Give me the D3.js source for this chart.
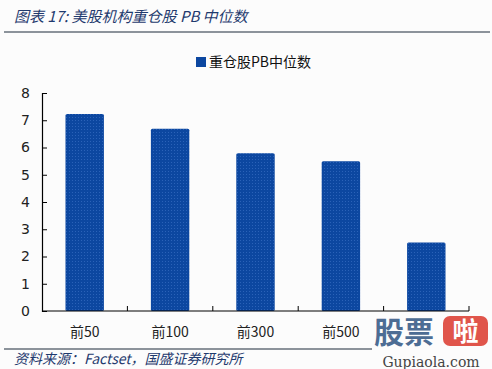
<!DOCTYPE html>
<html>
<head>
<meta charset="utf-8">
<script src="https://cdn.jsdelivr.net/npm/d3@7"></script>
<style>
  body { margin: 0; background: #fcfcfc; }
  svg { display: block; }
</style>
</head>
<body>
<svg id="chart" width="492" height="369"></svg>
<script>
const categories = ["前50", "前100", "前300", "前500", "全部"];
// the last category label is hidden under the watermark in the source picture
const xLabels = ["前50", "前100", "前300", "前500", ""];
const pbMedian = [7.23, 6.69, 5.79, 5.50, 2.51];
const yTicks = [0, 1, 2, 3, 4, 5, 6, 7, 8];
const seriesName = "重仓股PB中位数";
const titleText = "图表 17:  美股机构重仓股 PB 中位数";
const sourceText = "资料来源：Factset，国盛证券研究所";

const svg = d3.select("#chart");
const font = "'Noto Sans CJK SC', 'DejaVu Sans', sans-serif";
const navy = "#1f3a6e";
const barColor = "#0c47a0";

svg.append("rect").attr("width", 492).attr("height", 369).attr("fill", "#fcfcfc");

// dotted bar texture
const defs = svg.append("defs");
const pat = defs.append("pattern")
    .attr("id", "dots")
    .attr("width", 3).attr("height", 3)
    .attr("patternUnits", "userSpaceOnUse");
pat.append("rect").attr("width", 3).attr("height", 3).attr("fill", barColor);
pat.append("rect").attr("width", 1).attr("height", 1).attr("fill", "#2a62b8");

// title + rules
svg.append("text")
    .attr("x", 14).attr("y", 22)
    .attr("font-family", font).attr("font-size", 15).attr("font-style", "italic")
    .attr("fill", navy)
    .text(titleText);
svg.append("line").attr("x1", 4).attr("x2", 490).attr("y1", 32).attr("y2", 32)
    .attr("stroke", "#1d2b3a").attr("stroke-width", 1.2);
svg.append("line").attr("x1", 4).attr("x2", 372).attr("y1", 349).attr("y2", 349)
    .attr("stroke", "#1d2b3a").attr("stroke-width", 1.2);
svg.append("text")
    .attr("x", 14).attr("y", 364)
    .attr("font-family", font).attr("font-size", 14).attr("font-style", "italic")
    .attr("fill", navy)
    .text(sourceText);

// scales
const x = d3.scaleBand().domain(categories).range([42, 469])
    .paddingInner(0.55).paddingOuter(0.275);
const y = d3.scaleLinear().domain([0, 8]).range([311, 93]);

// bars
svg.selectAll(".bar")
    .data(pbMedian)
    .enter().append("rect")
    .attr("class", "bar")
    .attr("x", (d, i) => x(categories[i]))
    .attr("y", d => y(d))
    .attr("width", x.bandwidth())
    .attr("height", d => y(0) - y(d))
    .attr("rx", 1.5)
    .attr("fill", "url(#dots)");

// y axis
const yAxis = svg.append("g")
    .attr("transform", "translate(42,0)")
    .call(d3.axisRight(y).tickValues(yTicks).tickSize(5).tickFormat(d3.format("d")));
yAxis.select(".domain").attr("stroke", "#000").attr("stroke-width", 1.2);
yAxis.selectAll(".tick line").attr("stroke", "#000");
yAxis.selectAll(".tick text")
    .attr("x", -12).attr("text-anchor", "end")
    .attr("font-family", "'DejaVu Sans', sans-serif").attr("font-size", 14)
    .attr("fill", "#222");

// x axis
svg.append("line").attr("x1", 42).attr("x2", 469).attr("y1", y(0)).attr("y2", y(0))
    .attr("stroke", "#000").attr("stroke-width", 1.2);
const step = x.step();
svg.selectAll(".xtick")
    .data(d3.range(1, categories.length + 1))
    .enter().append("line")
    .attr("x1", i => 42 + i * step).attr("x2", i => 42 + i * step)
    .attr("y1", y(0)).attr("y2", y(0) - 5)
    .attr("stroke", "#000");
svg.selectAll(".xlabel")
    .data(categories.filter((c, i) => xLabels[i]))
    .enter().append("text")
    .attr("x", d => x(d) + x.bandwidth() / 2)
    .attr("y", 337)
    .attr("text-anchor", "middle")
    .attr("font-family", font).attr("font-size", 14)
    .attr("fill", "#222")
    .text(d => xLabels[categories.indexOf(d)]);

// legend
svg.append("rect").attr("x", 196).attr("y", 57).attr("width", 10).attr("height", 10)
    .attr("fill", barColor);
svg.append("text")
    .attr("x", 209).attr("y", 67)
    .attr("font-family", font).attr("font-size", 14)
    .attr("fill", "#111")
    .text(seriesName);

// watermark
const wm = svg.append("g");
wm.append("rect").attr("x", 372).attr("y", 314).attr("width", 120).attr("height", 55)
    .attr("fill", "#fcfcfc").attr("opacity", 0.9);
wm.append("text")
    .attr("x", 374).attr("y", 343)
    .attr("font-family", font).attr("font-size", 30).attr("font-weight", "bold")
    .attr("fill", "#4d6d94")
    .text("股票");
wm.append("rect").attr("x", 443).attr("y", 316).attr("width", 45).attr("height", 30)
    .attr("rx", 7).attr("fill", "#e0554b");
wm.append("text")
    .attr("x", 465.5).attr("y", 341)
    .attr("text-anchor", "middle")
    .attr("font-family", font).attr("font-size", 26).attr("font-weight", "bold")
    .attr("fill", "#fff")
    .text("啦");
wm.append("text")
    .attr("x", 431).attr("y", 367)
    .attr("text-anchor", "middle")
    .attr("font-family", "'DejaVu Serif', 'Liberation Serif', serif").attr("font-size", 14)
    .attr("fill", "#444")
    .text("Gupiaola.com");
</script>
</body>
</html>
